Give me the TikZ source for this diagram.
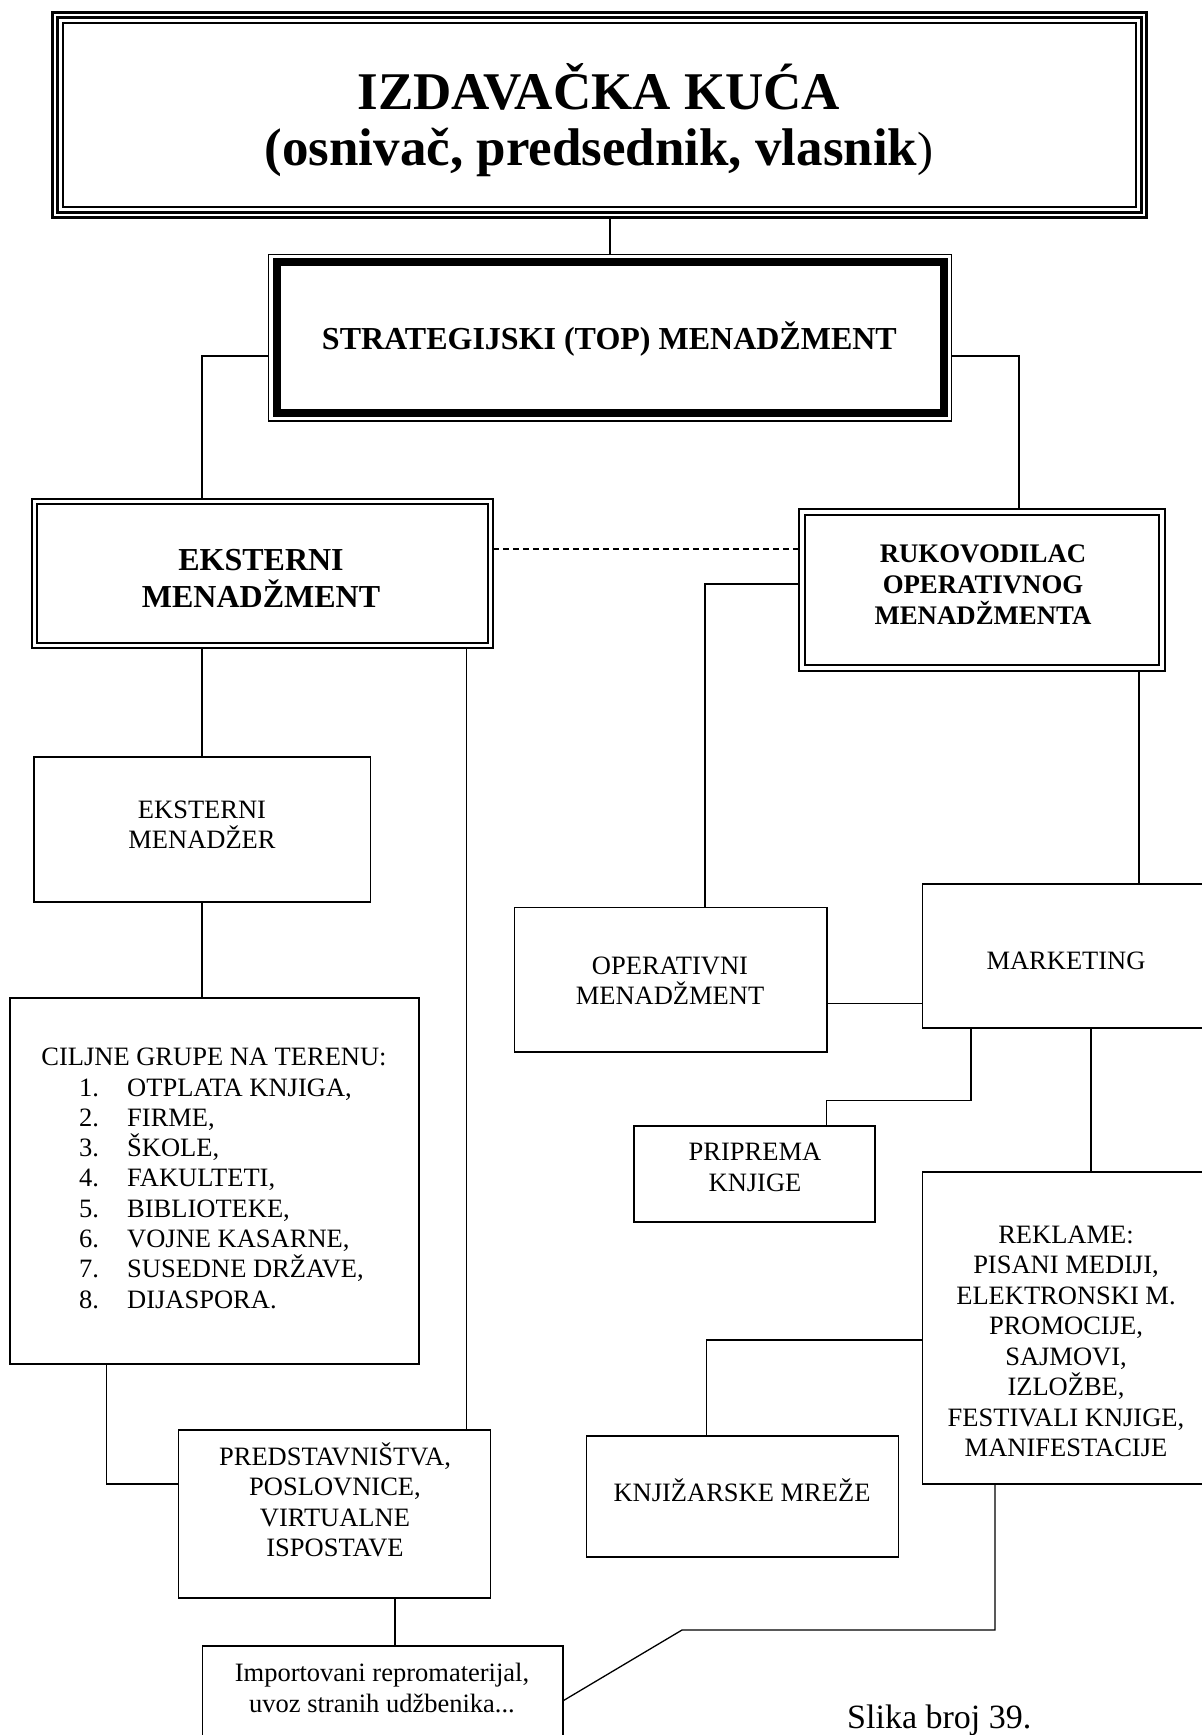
\documentclass[tikz,border=0pt]{standalone}
\usepackage{fontspec}
\setmainfont{Liberation Serif}
\usetikzlibrary{calc}
\newcommand\fT{\fontsize{53}{60}\selectfont\bfseries}
\newcommand\fB{\fontsize{32}{38}\selectfont\bfseries}
\newcommand\fC{\fontsize{26.8}{30}\selectfont\bfseries}
\newcommand\fR{\fontsize{26.5}{30}\selectfont}
\newcommand\fS{\fontsize{34}{40}\selectfont}
\begin{document}
\begin{tikzpicture}[x=1pt,y=-1pt,
  box/.style={draw, rectangle, line width=1.6pt, inner sep=0pt, outer sep=0pt},
  conn/.style={line width=1.3pt},
  lbl/.style={anchor=base, inner sep=0pt, font=\fR},
  blbl/.style={anchor=base, inner sep=0pt, font=\fB}]
\useasboundingbox (0,0) rectangle (1202,1735);
\fill[white] (0,0) rectangle (1202,1735);
\clip (0,0) rectangle (1202,1735);

% ---- top box (triple frame)
\node[box, line width=3.3pt, minimum width=1094.2pt, minimum height=205pt] (top) at (599.4,115) {};
\draw[line width=3.3pt] ([shift={(5.2,5.2)}]top.north west) rectangle ([shift={(-5.2,-5.2)}]top.south east);
\draw[line width=2pt] ([shift={(10.4,10.4)}]top.north west) rectangle ([shift={(-10.4,-10.4)}]top.south east);
\node[anchor=base, inner sep=0pt, font=\fT] (t1) at (599,109) {IZDAVAČKA KUĆA};
\node[anchor=base, inner sep=0pt, font=\fT] (t2) at (599,165) {(osnivač, predsednik, vlasnik{\mdseries\fontsize{48}{50}\selectfont )}};

% ---- strategic
\node[box, line width=1.3pt, minimum width=682.8pt, minimum height=166.5pt] (strat) at (610.1,337.75) {};
\draw[line width=8pt] ([shift={(7.8,7.8)}]strat.north west) rectangle ([shift={(-7.8,-7.8)}]strat.south east);
\node[blbl] (strat-t) at (609.4,349) {STRATEGIJSKI (TOP) MENADŽMENT};

% ---- eksterni menadzment
\node[box, line width=2.2pt, minimum width=460.8pt, minimum height=149.3pt] (ekst) at (262.6,573.35) {};
\draw[line width=2pt] ([shift={(4.8,4.8)}]ekst.north west) rectangle ([shift={(-4.8,-4.8)}]ekst.south east);
\node[blbl] (ekst-1) at (261,570) {EKSTERNI};
\node[blbl] (ekst-2) at (261,607) {MENADŽMENT};

% ---- rukovodilac
\node[box, line width=2pt, minimum width=365.7pt, minimum height=161.5pt] (ruk) at (982.15,589.75) {};
\draw[line width=2pt] ([shift={(5.8,5.8)}]ruk.north west) rectangle ([shift={(-5.8,-5.8)}]ruk.south east);
\node[anchor=base, inner sep=0pt, font=\fC] (ruk-1) at (983,562) {RUKOVODILAC};
\node[anchor=base, inner sep=0pt, font=\fC] (ruk-2) at (983,593) {OPERATIVNOG};
\node[anchor=base, inner sep=0pt, font=\fC] (ruk-3) at (983,624) {MENADŽMENTA};

% ---- plain boxes
\node[box, minimum width=336.5pt, minimum height=145pt] (mgr) at (202.25,829.5) {};
\node[box, minimum width=409pt, minimum height=366pt] (cil) at (214.5,1181) {};
\node[box, minimum width=312pt, minimum height=168pt] (pred) at (334.6,1514) {};
\node[box, minimum width=360.3pt, minimum height=114.3pt] (imp) at (382.55,1702.85) {};
\node[box, minimum width=312.2pt, minimum height=144.4pt] (oper) at (670.6,979.8) {};
\node[box, minimum width=287.5pt, minimum height=144pt] (mark) at (1066.25,956) {};
\node[box, minimum width=241pt, minimum height=96pt] (pri) at (754.5,1173.7) {};
\node[box, minimum width=287.5pt, minimum height=312pt] (rek) at (1066.25,1328) {};
\node[box, minimum width=312pt, minimum height=121pt] (knj) at (742.4,1496.2) {};

% ---- texts
\node[lbl] (mgr-1) at (202,818) {EKSTERNI};
\node[lbl] (mgr-2) at (202,848) {MENADŽER};

\node[lbl] (cil-h) at (214,1065) {CILJNE GRUPE NA TERENU:};
\foreach \t [count=\i] in {{OTPLATA KNJIGA,},{FIRME,},{ŠKOLE,},{FAKULTETI,},{BIBLIOTEKE,},{VOJNE KASARNE,},{SUSEDNE DRŽAVE,},{DIJASPORA.}}{
  \node[lbl, anchor=base west] (cil-n\i) at (79,{1096+30.3*(\i-1)}) {\i.};
  \node[lbl, anchor=base west] (cil-t\i) at (127,{1096+30.3*(\i-1)}) {\t};
}

\node[lbl] (pred-1) at (335,1465) {PREDSTAVNIŠTVA,};
\node[lbl] (pred-2) at (335,1495.7) {POSLOVNICE,};
\node[lbl] (pred-3) at (335,1526) {VIRTUALNE};
\node[lbl] (pred-4) at (335,1556.7) {ISPOSTAVE};

\node[lbl] (imp-1) at (382,1681.7) {Importovani repromaterijal,};
\node[lbl] (imp-2) at (382,1712) {uvoz stranih udžbenika...};

\node[lbl] (oper-1) at (670,974.5) {OPERATIVNI};
\node[lbl] (oper-2) at (670,1004.5) {MENADŽMENT};

\node[lbl] (mark-t) at (1066,969.6) {MARKETING};

\node[lbl] (pri-1) at (755,1160) {PRIPREMA};
\node[lbl] (pri-2) at (755,1191) {KNJIGE};

\foreach \t [count=\i] in {{REKLAME:},{PISANI MEDIJI,},{ELEKTRONSKI M.},{PROMOCIJE,},{SAJMOVI,},{IZLOŽBE,},{FESTIVALI KNJIGE,},{MANIFESTACIJE}}{
  \node[lbl] (rek-\i) at (1066,{1243.5+30.45*(\i-1)}) {\t};
}

\node[lbl] (knj-t) at (742,1501.7) {KNJIŽARSKE MREŽE};

\node[anchor=base west, inner sep=0pt, font=\fS] (slika) at (847,1728) {Slika broj 39.};

% ---- connectors
\draw[conn] (strat.north) -- (strat.north |- top.south);
\coordinate (j1) at (202,356);
\draw[conn] (strat.west |- j1) -- (j1) -- (j1 |- ekst.north);
\coordinate (j2) at (1019,356);
\draw[conn] (strat.east |- j2) -- (j2) -- (j2 |- ruk.north);
\coordinate (d) at (0,549);
\draw[line width=1.8pt, dash pattern=on 6pt off 4pt] (ekst.east |- d) -- (ruk.west |- d);
\coordinate (j3) at (705,584);
\draw[conn] (ruk.west |- j3) -- (j3) -- (j3 |- oper.north);
\coordinate (j4) at (1139,0);
\draw[conn] (j4 |- ruk.south) -- (j4 |- mark.north);
\coordinate (j5) at (202,0);
\draw[conn] (j5 |- ekst.south) -- (j5 |- mgr.north);
\draw[conn] (j5 |- mgr.south) -- (j5 |- cil.north);
\coordinate (j6) at (466.5,0);
\draw[conn] (j6 |- ekst.south) -- (j6 |- pred.north);
\coordinate (j7) at (106.5,1484);
\draw[conn] (j7 |- cil.south) -- (j7) -- (pred.west |- j7);
\coordinate (j8) at (395,0);
\draw[conn] (j8 |- pred.south) -- (j8 |- imp.north);
\coordinate (j9) at (0,1003.5);
\draw[conn] (oper.east |- j9) -- (mark.west |- j9);
\coordinate (j10) at (971,1100.5);
\coordinate (j11) at (826.7,1100.5);
\draw[conn] (j10 |- mark.south) -- (j10) -- (j11) -- (j11 |- pri.north);
\coordinate (j12) at (1091,0);
\draw[conn] (j12 |- mark.south) -- (j12 |- rek.north);
\coordinate (j13) at (706.5,1340);
\draw[conn] (rek.west |- j13) -- (j13) -- (j13 |- knj.north);
\coordinate (j14) at (995,1630);
\coordinate (j15) at (682,1630);
\coordinate (j16) at (0,1701);
\draw[conn] (j14 |- rek.south) -- (j14) -- (j15) -- (imp.east |- j16);
\end{tikzpicture}
\end{document}
